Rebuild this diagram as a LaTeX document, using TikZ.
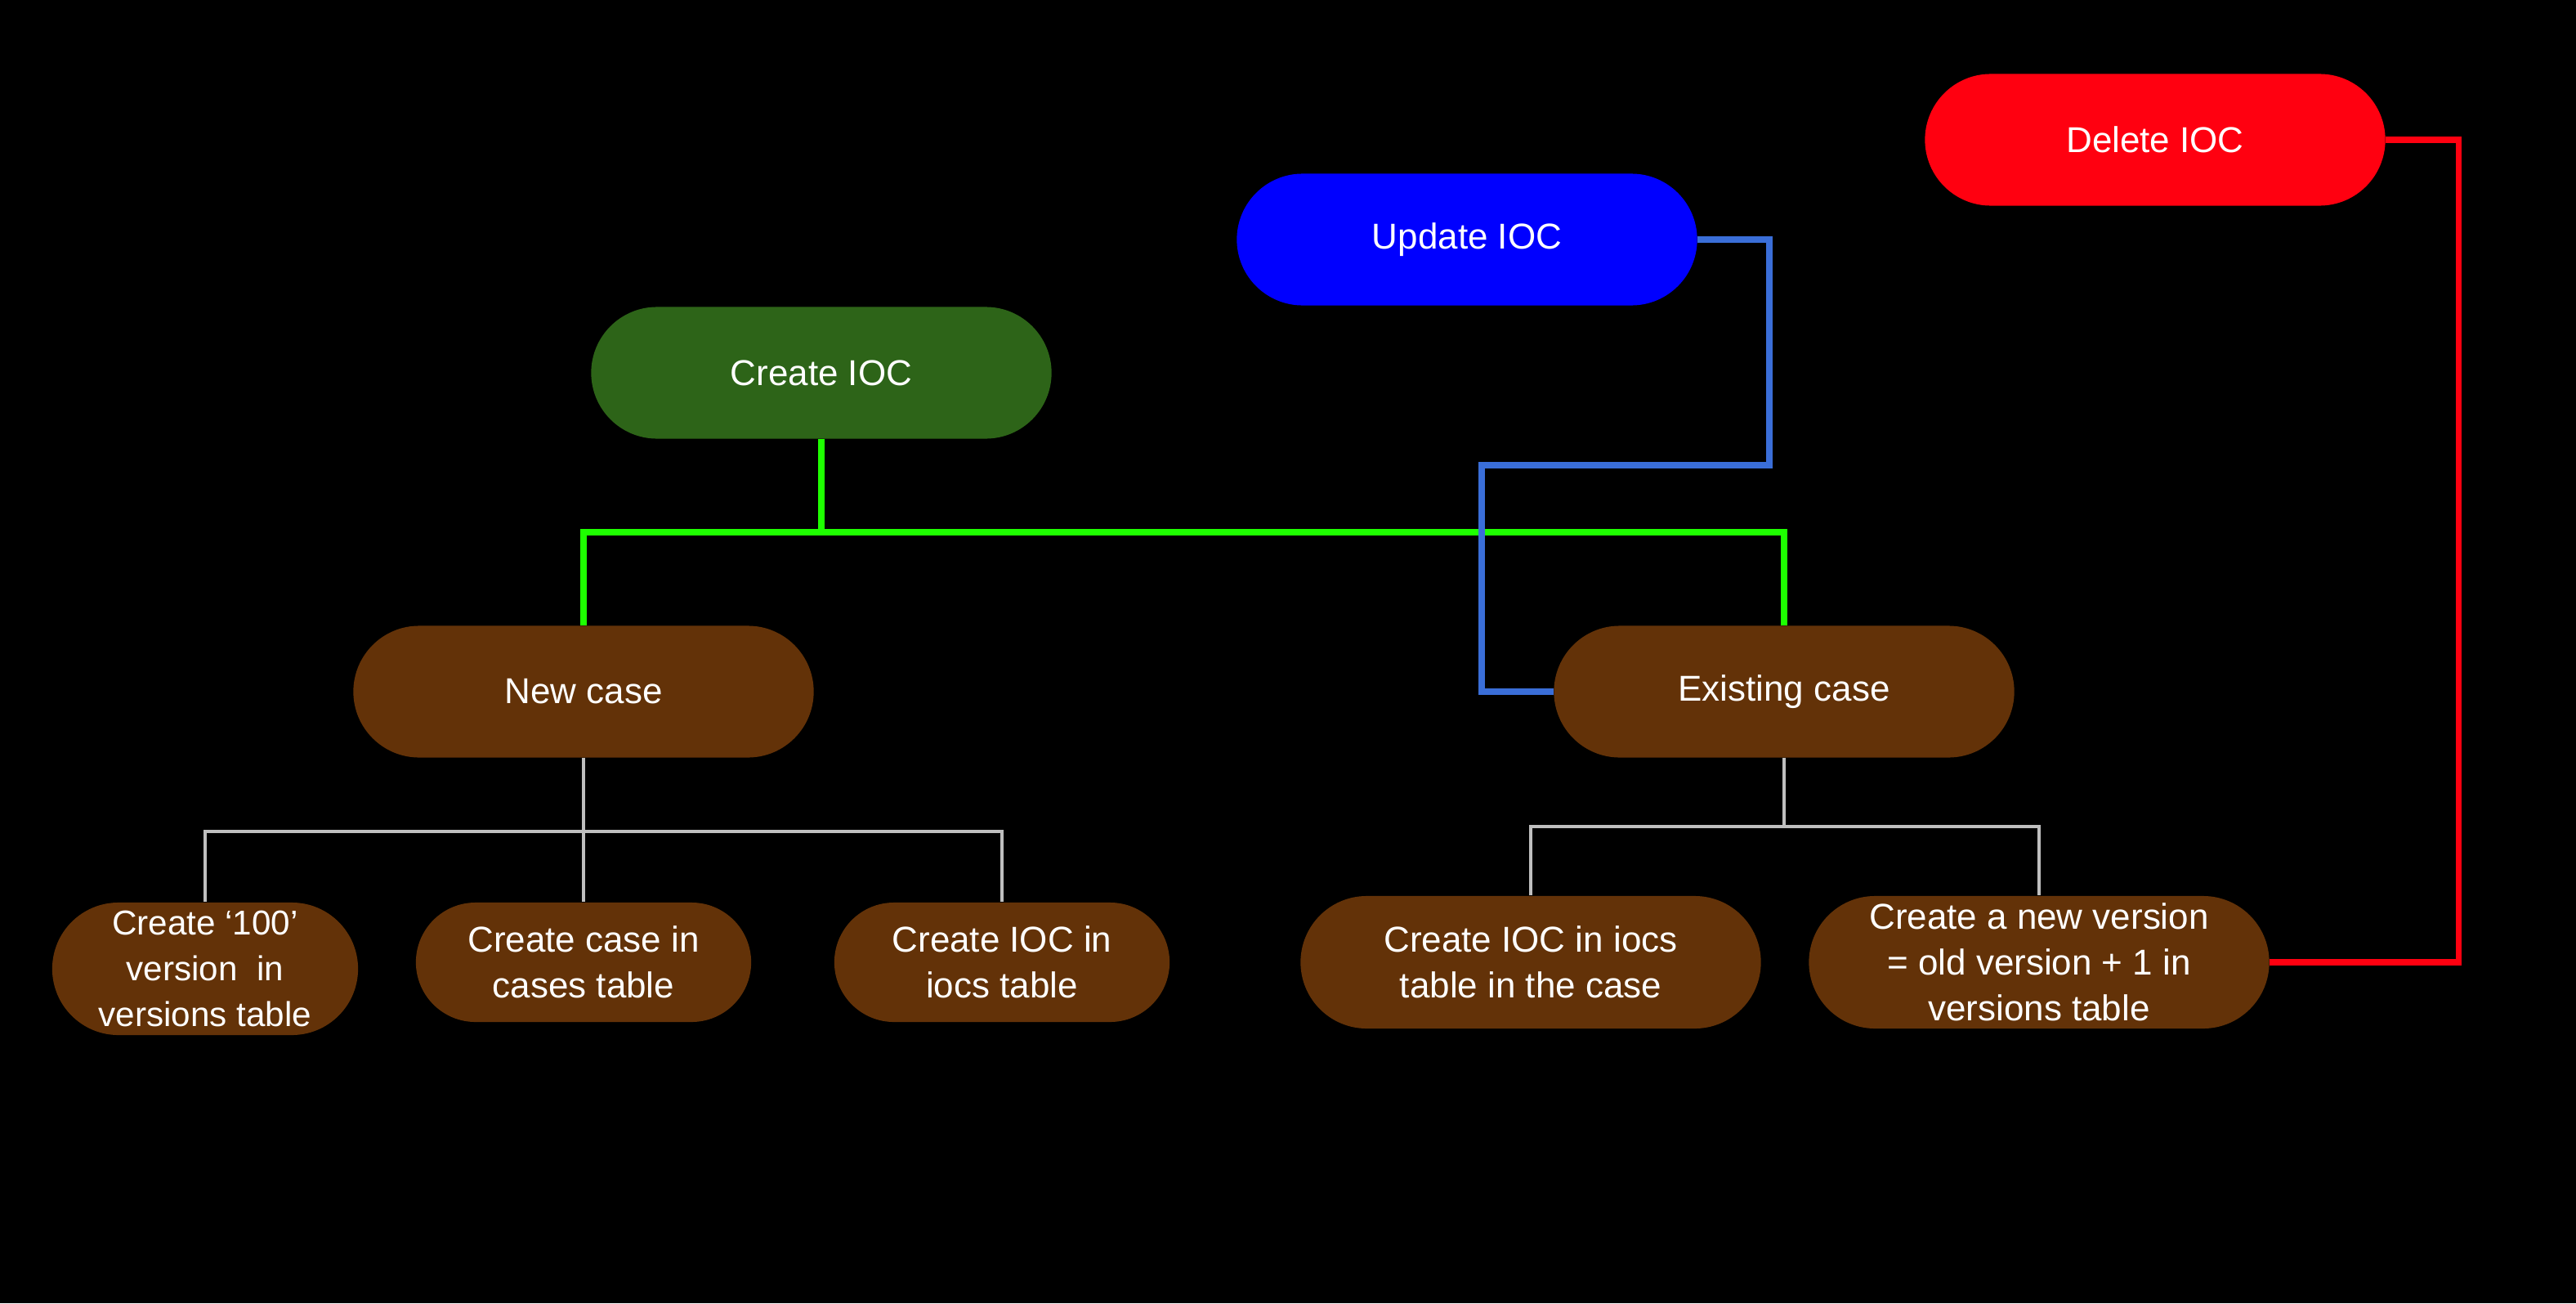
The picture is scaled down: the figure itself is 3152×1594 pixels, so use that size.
\documentclass[tikz,border=0pt]{standalone}
\usepackage{fontspec}
\setmainfont{Liberation Sans}
\usetikzlibrary{shapes.misc, calc}

\definecolor{createfill}{RGB}{45,100,24}
\definecolor{casefill}{RGB}{99,50,8}
\definecolor{updatefill}{RGB}{0,0,255}
\definecolor{deletefill}{RGB}{255,0,16}
\definecolor{greenline}{RGB}{30,255,0}
\definecolor{blueline}{RGB}{58,110,216}
\definecolor{grayline}{RGB}{191,191,191}

\begin{document}
\begin{tikzpicture}[x=0.01cm, y=-0.01cm,
        pill/.style={rounded rectangle, text=white, align=center,
            font=\fontsize{12.5}{16}\selectfont, inner sep=0pt},
        bigpill/.style={pill, minimum width=5.63cm, minimum height=1.61cm},
        smallpill/.style={pill, fill=casefill, minimum height=1.46cm},
        link/.style={line width=2.1pt},
        twig/.style={line width=1pt, grayline}]
        \fill[black] (0,0) rectangle (3152,1594);
        \useasboundingbox (0,0) rectangle (3152,1594);

        \node (delete) at (2637, 171) [bigpill, fill=deletefill] {Delete IOC};
        \node (update) at (1795, 293) [bigpill, fill=updatefill] {Update IOC};
        \node (create) at (1005, 456) [bigpill, fill=createfill] {Create IOC};

        \node (newcase) at (714, 846) [bigpill, fill=casefill] {New case};
        \node (existcase) at (2183, 846) [bigpill, fill=casefill] {Existing case};

        \node (v100) at (251, 1185) [smallpill, minimum width=3.74cm, minimum height=1.62cm, font=\fontsize{12}{16}\selectfont] {Create ‘100’\\version\ \ in\\versions table};
        \node (casetab) at (714, 1177) [smallpill, minimum width=4.1cm] {Create case in\\cases table};
        \node (iocstab) at (1226, 1177) [smallpill, minimum width=4.1cm] {Create IOC in\\iocs table};
        \node (iocscase) at (1873, 1177) [smallpill, minimum width=5.63cm, minimum height=1.62cm] {Create IOC in iocs\\table in the case};
        \node (newver) at (2495, 1177) [smallpill, minimum width=5.63cm, minimum height=1.62cm] {Create a new version\\= old version + 1 in\\versions table};

        \coordinate (gsplit) at (1005, 651);
        \coordinate (ua) at (2165, 569);
        \coordinate (ub) at (1813, 569);
        \coordinate (nsplit) at (714, 1017);
        \coordinate (esplit) at (2183, 1011);

        \draw[link, greenline] (create.south) -- (gsplit);
        \draw[link, greenline] (newcase.north) |- (gsplit) -| (existcase.north);
        \draw[link, blueline] (update.east) -| (ua) -- (ub) |- (existcase.west);
        \draw[link, deletefill] (delete.east) -| ([xshift=2.31cm]newver.east) -- (newver.east);

        \draw[twig] (newcase.south) -- (nsplit);
        \draw[twig] (v100.north) |- (nsplit) -| (iocstab.north);
        \draw[twig] (nsplit) -- (casetab.north);
        \draw[twig] (existcase.south) -- (esplit);
        \draw[twig] (iocscase.north) |- (esplit) -| (newver.north);
    \end{tikzpicture}
\end{document}
